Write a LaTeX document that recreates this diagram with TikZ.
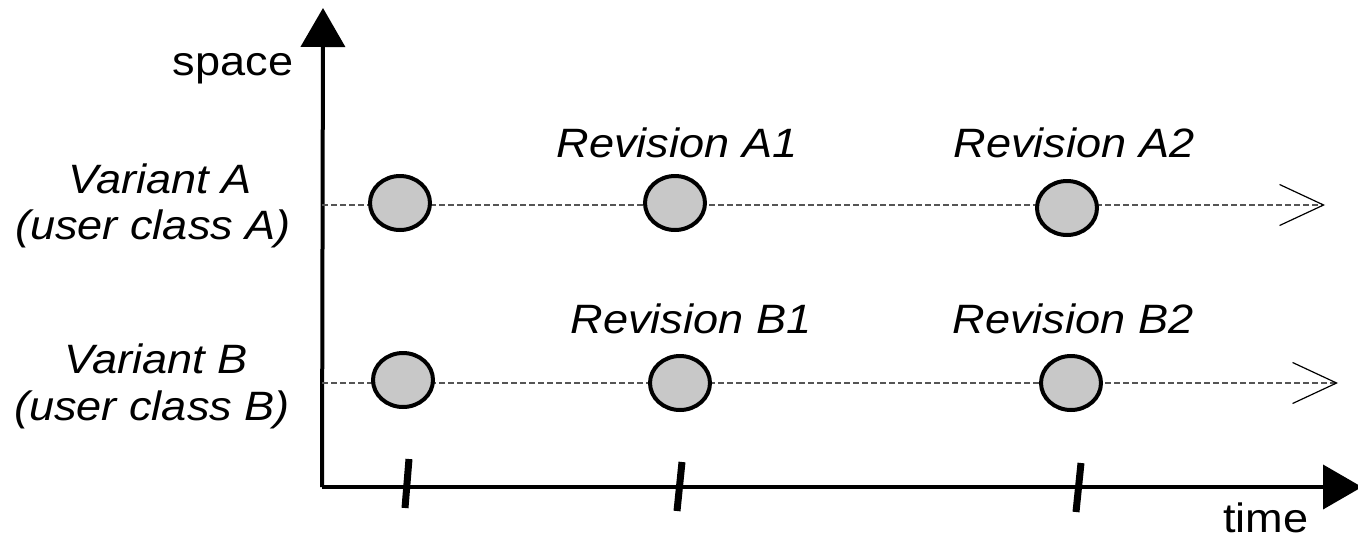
\documentclass[tikz,border=0pt]{standalone}
\usepackage{fontspec}
\setmainfont{Liberation Sans}[FakeStretch=1.1]
\usetikzlibrary{arrows.meta,shapes.geometric}
\definecolor{dotfill}{HTML}{C8C8C8}
\definecolor{trackgray}{HTML}{555555}
\begin{document}
\begin{tikzpicture}[x=1pt,y=-1pt,
  axis/.style={line width=4pt,-{Triangle[length=39pt,width=44pt]}},
  track/.style={draw=trackgray,line width=1.3pt,dash pattern=on 6pt off 3pt,
    -{Straight Barb[length=44pt,width=41pt,line width=1.2pt,color=black]}},
  version/.style={ellipse,draw,fill=dotfill,line width=4pt,
    minimum width=60pt,minimum height=54pt,inner sep=0pt},
  label/.style={anchor=base,inner sep=0pt,font=\fontsize{41}{47}\selectfont},
  ilabel/.style={label,font=\fontsize{41}{47}\selectfont\itshape},
  tick/.style={line width=7pt}]
\useasboundingbox (0,0) rectangle (1358,541);

% axes
\coordinate (o) at (322,487);
\coordinate (ytip) at (323,8);
\coordinate (xtip) at (1362,487);
\draw[axis] (o) -- (ytip);
\draw[axis] (o) -- (xtip);
\node[label] (space) at (233,75) {space};
\node[label] (time) at (1266,532) {time};

% time ticks
\coordinate (t1a) at (409,459); \coordinate (t1b) at (405,508);
\coordinate (t2a) at (682,462); \coordinate (t2b) at (677,511);
\coordinate (t3a) at (1081,463); \coordinate (t3b) at (1076,512);
\draw[tick] (t1a) -- (t1b);
\draw[tick] (t2a) -- (t2b);
\draw[tick] (t3a) -- (t3b);

% variant tracks
\coordinate (sA) at (322,205); \coordinate (eA) at (1325,205);
\coordinate (sB) at (322,383); \coordinate (eB) at (1338,383);
\draw[track] (sA) -- (eA);
\draw[track] (sB) -- (eB);

% versions
\node[version] (a0) at (400,203) {};
\node[version] (a1) at (675,203) {};
\node[version] (a2) at (1067,208) {};
\node[version] (b0) at (403,380) {};
\node[version] (b1) at (680,383) {};
\node[version] (b2) at (1071,383) {};

% labels
\node[ilabel] (ra1) at (677,157) {Revision A1};
\node[ilabel] (ra2) at (1074,157) {Revision A2};
\node[ilabel] (rb1) at (691,333) {Revision B1};
\node[ilabel] (rb2) at (1073,333) {Revision B2};
\node[ilabel] (va) at (160,193) {Variant A};
\node[ilabel] (ua) at (153,239) {(user class A)};
\node[ilabel] (vb) at (156,373) {Variant B};
\node[ilabel] (ub) at (152,420) {(user class B)};
\end{tikzpicture}
\end{document}
